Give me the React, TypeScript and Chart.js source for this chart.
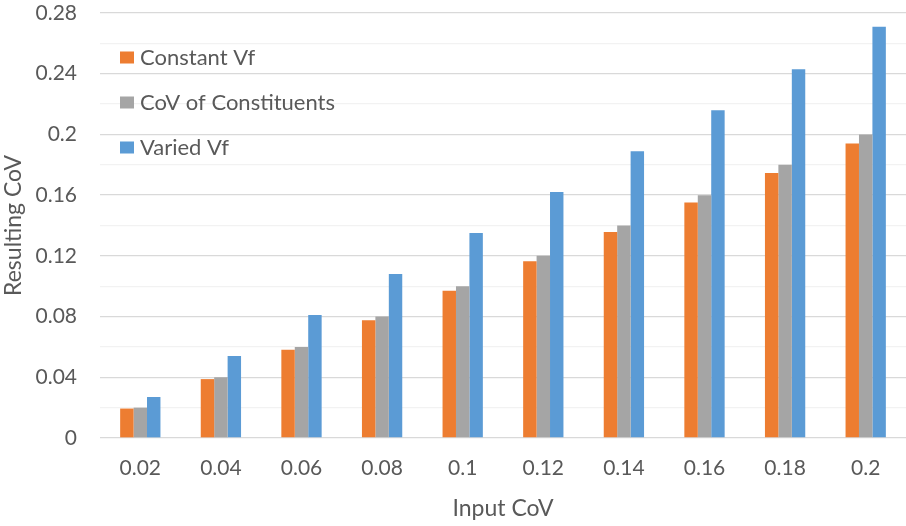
import React, { useEffect, useRef } from "react";
import { Chart, registerables } from "chart.js";

Chart.register(...registerables);

const categories = ["0.02", "0.04", "0.06", "0.08", "0.1", "0.12", "0.14", "0.16", "0.18", "0.2"];
const constantVf = [0.0194, 0.0388, 0.0582, 0.0776, 0.097, 0.1164, 0.1358, 0.1552, 0.1746, 0.194];
const covOfConstituents = [0.02, 0.04, 0.06, 0.08, 0.1, 0.12, 0.14, 0.16, 0.18, 0.2];
const variedVf = [0.027, 0.054, 0.081, 0.108, 0.135, 0.162, 0.189, 0.216, 0.243, 0.271];
const seriesLabels = ["Constant Vf", "CoV of Constituents", "Varied Vf"];
const seriesColors = ["#ED7D31", "#A5A5A5", "#5B9BD5"];

const FONT = "Lato, 'Open Sans', sans-serif";
const TEXT_COLOR = "#595959";

// Legend stacked vertically inside the plot area, top-left.
const insideLegend = {
  id: "insideLegend",
  afterDatasetsDraw(chart: any) {
    const { ctx, chartArea } = chart;
    const size = 22;
    ctx.save();
    ctx.font = `${size}px ${FONT}`;
    ctx.textBaseline = "alphabetic";
    ctx.textAlign = "left";
    chart.data.datasets.forEach((ds: any, i: number) => {
      const cy = chartArea.top + 44.5 + i * 45;
      const x = chartArea.left + 20;
      ctx.fillStyle = ds.backgroundColor;
      ctx.fillRect(x, cy - 6, 14, 12);
      ctx.fillStyle = TEXT_COLOR;
      ctx.fillText(ds.label, x + 20, cy + size * 0.36);
    });
    ctx.restore();
  },
};

export default function App() {
  const canvasRef = useRef<HTMLCanvasElement | null>(null);

  useEffect(() => {
    document.body.style.margin = "0";
    const canvas = canvasRef.current;
    if (!canvas) return;
    const chart = new Chart(canvas, {
      type: "bar",
      data: {
        labels: categories,
        datasets: [constantVf, covOfConstituents, variedVf].map((values, i) => ({
          label: seriesLabels[i],
          data: values,
          backgroundColor: seriesColors[i],
          borderWidth: 0,
          categoryPercentage: 0.5,
          barPercentage: 1.0,
        })),
      },
      options: {
        responsive: false,
        animation: false,
        devicePixelRatio: 1,
        layout: { padding: { top: 13, right: 0, bottom: 0, left: 0 } },
        plugins: {
          legend: { display: false },
          tooltip: { enabled: false },
        },
        scales: {
          x: {
            grid: { display: false, drawTicks: false },
            border: { display: false },
            ticks: {
              color: TEXT_COLOR,
              font: { family: FONT, size: 21 },
              padding: 18,
              maxRotation: 0,
            },
            title: {
              display: true,
              text: "Input CoV",
              color: TEXT_COLOR,
              font: { family: FONT, size: 23 },
              padding: { top: 0, bottom: 4 },
            },
            afterFit(scale: any) {
              scale.height = 88;
              scale.paddingLeft = 0;
              scale.paddingRight = 0;
            },
          },
          y: {
            min: 0,
            max: 0.28,
            border: { display: false },
            grid: {
              drawTicks: false,
              lineWidth: 1.3,
              color: (ctx: any) => (ctx.index % 2 === 0 ? "#D9D9D9" : "#F2F2F2"),
            },
            ticks: {
              stepSize: 0.02,
              autoSkip: false,
              color: TEXT_COLOR,
              font: { family: FONT, size: 21 },
              padding: 23,
              callback: (value: any, index: number) =>
                index % 2 === 0 ? String(Number(Number(value).toFixed(2))) : "",
            },
            title: {
              display: true,
              text: "Resulting CoV",
              color: TEXT_COLOR,
              font: { family: FONT, size: 23 },
              padding: { top: 0, bottom: 0 },
            },
            afterFit(scale: any) {
              scale.width = 100;
              scale.paddingTop = 0;
              scale.paddingBottom = 0;
            },
          },
        },
      },
      plugins: [insideLegend],
    });
    return () => chart.destroy();
  }, []);

  return (
    <div style={{ position: "relative", width: 906, height: 526, background: "#fff" }}>
      <canvas ref={canvasRef} width={906} height={526} />
    </div>
  );
}
